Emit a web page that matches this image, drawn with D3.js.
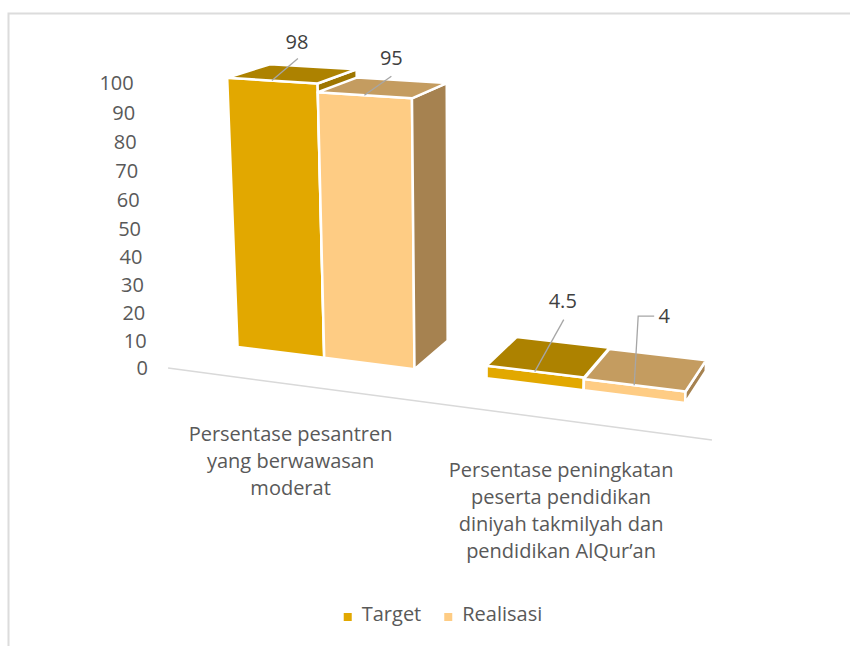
<!DOCTYPE html>
<html>
<head>
<meta charset="utf-8">
<script src="https://cdn.jsdelivr.net/npm/d3@7"></script>
<style>
  html, body { margin: 0; padding: 0; background: #fff; }
  svg { display: block; font-family: 'Open Sans', sans-serif; }
</style>
</head>
<body>
<svg id="chart"></svg>
<script>
// data
const categories = [
  'Persentase pesantren yang berwawasan moderat',
  'Persentase peningkatan peserta pendidikan diniyah takmilyah dan pendidikan AlQur’an'
];
const categoryLines = [
  ['Persentase pesantren', 'yang berwawasan', 'moderat'],
  ['Persentase peningkatan', 'peserta pendidikan', 'diniyah takmilyah dan', 'pendidikan AlQur’an']
];
const seriesNames = ['Target', 'Realisasi'];
const targetValues = [98, 4.5];
const realisasiValues = [95, 4];
const yTicks = [0, 10, 20, 30, 40, 50, 60, 70, 80, 90, 100];

const colors = {
  Target: { front: '#E2A800', top: '#AD8200', side: '#9E7600' },
  Realisasi: { front: '#FECC84', top: '#C49C60', side: '#A68250' }
};

// data label placement relative to the top front edge of each bar: [dx, dy, leader points]
const labelLayout = [
  [{ dx: 25, dy: -32, leader: [[0, 0], [26, -22]] }, { dx: 27, dy: -30, leader: [[0, 0], [27, -19]] }],
  [{ dx: 28, dy: -64, leader: [[0, 0], [29, -52]] }, { dx: 30, dy: -62, leader: [[0, 0], [4, -69], [20, -69]] }]
];

const width = 850;
const height = 646;

const svg = d3.select('#chart').attr('width', width).attr('height', height);

// frame
svg.append('rect')
  .attr('x', 8.5).attr('y', 13.5)
  .attr('width', 900).attr('height', 700)
  .attr('fill', '#fff')
  .attr('stroke', '#DCDCDC')
  .attr('stroke-width', 2);

// 3D world box (units ~ px)
const plotW = 553, plotH = 290, barDepth = 94, gapDepth = 82;
const plotD = barDepth + 2 * gapDepth;

const x = d3.scaleBand()
  .domain(categories)
  .range([0, plotW])
  .paddingInner(0.278)
  .paddingOuter(0.14)
  .align(0.45);

const xs = d3.scaleBand().domain(seriesNames).range([0, x.bandwidth()]);

const y = d3.scaleLinear().domain([0, 100]).range([0, plotH]);

// camera
const yaw = 20 * Math.PI / 180;
const pitch = 14.5 * Math.PI / 180;
const focal = 1590;
const cx = 470, cy = 222;
const pivot = [plotW / 2, plotH / 2, plotD / 2];
const cosT = Math.cos(yaw), sinT = Math.sin(yaw), cosP = Math.cos(pitch), sinP = Math.sin(pitch);
const camPos = [
  pivot[0] + focal * cosP * sinT,
  pivot[1] + focal * sinP,
  pivot[2] - focal * cosP * cosT
];

function project(p) {
  const dx = p[0] - pivot[0], dy = p[1] - pivot[1], dz = p[2] - pivot[2];
  const X = dx * cosT + dz * sinT;
  const Zc = dx * sinT - dz * cosT;
  const Y = dy * cosP - Zc * sinP;
  const Z = dy * sinP + Zc * cosP;
  const s = focal / (focal - Z);
  return [cx + X * s, cy - Y * s];
}

const poly = d3.line();

// floor front edge
const f0 = project([0, 0, 0]);
const f1 = project([plotW, 0, 0]);
svg.append('line')
  .attr('x1', f0[0]).attr('y1', f0[1])
  .attr('x2', f1[0]).attr('y2', f1[1])
  .attr('stroke', '#D9D9D9')
  .attr('stroke-width', 1.5);

// y tick labels
svg.append('g')
  .selectAll('text')
  .data(yTicks)
  .join('text')
  .attr('x', (d) => project([0, y(d), 0])[0] - 20)
  .attr('y', (d) => project([0, y(d), 0])[1])
  .attr('dy', '0.35em')
  .attr('text-anchor', 'end')
  .style('font-size', '20px')
  .style('fill', '#595959')
  .text((d) => d);

// bars
const valuesBySeries = { Target: targetValues, Realisasi: realisasiValues };
const bars = [];
categories.forEach((c, i) => {
  seriesNames.forEach((s, j) => {
    const x0 = x(c) + xs(s);
    const x1 = x0 + xs.bandwidth();
    const z0 = gapDepth, z1 = gapDepth + barDepth;
    const h = y(valuesBySeries[s][i]);
    bars.push({ ci: i, si: j, series: s, value: valuesBySeries[s][i], x0, x1, z0, z1, h });
  });
});

function faces(b) {
  const { x0, x1, z0, z1, h } = b;
  const all = [
    { n: [0, 0, -1], c: [(x0 + x1) / 2, h / 2, z0], kind: 'front', pts: [[x0, 0, z0], [x1, 0, z0], [x1, h, z0], [x0, h, z0]] },
    { n: [0, 0, 1], c: [(x0 + x1) / 2, h / 2, z1], kind: 'side', pts: [[x0, 0, z1], [x1, 0, z1], [x1, h, z1], [x0, h, z1]] },
    { n: [-1, 0, 0], c: [x0, h / 2, (z0 + z1) / 2], kind: 'side', pts: [[x0, 0, z0], [x0, 0, z1], [x0, h, z1], [x0, h, z0]] },
    { n: [1, 0, 0], c: [x1, h / 2, (z0 + z1) / 2], kind: 'side', pts: [[x1, 0, z0], [x1, 0, z1], [x1, h, z1], [x1, h, z0]] },
    { n: [0, 1, 0], c: [(x0 + x1) / 2, h, (z0 + z1) / 2], kind: 'top', pts: [[x0, h, z0], [x1, h, z0], [x1, h, z1], [x0, h, z1]] }
  ];
  return all.filter((f) => {
    const v = [camPos[0] - f.c[0], camPos[1] - f.c[1], camPos[2] - f.c[2]];
    return v[0] * f.n[0] + v[1] * f.n[1] + v[2] * f.n[2] > 0;
  });
}

// far bars first
const dist = (b) => Math.hypot(camPos[0] - (b.x0 + b.x1) / 2, camPos[2] - (b.z0 + b.z1) / 2);
const ordered = bars.slice().sort((a, b) => dist(b) - dist(a));

svg.append('g')
  .selectAll('g')
  .data(ordered)
  .join('g')
  .selectAll('path')
  .data((b) => faces(b).map((f) => ({ ...f, series: b.series })))
  .join('path')
  .attr('d', (f) => poly(f.pts.map(project)) + 'Z')
  .attr('fill', (f) => colors[f.series][f.kind])
  .attr('stroke', '#fff')
  .attr('stroke-width', 2.5)
  .attr('stroke-linejoin', 'round');

// data labels with leader lines
const labelG = svg.append('g');
bars.forEach((b) => {
  const a = project([(b.x0 + b.x1) / 2, b.h, b.z0]);
  const lay = labelLayout[b.ci][b.si];
  labelG.append('path')
    .attr('d', poly(lay.leader.map((p) => [a[0] + p[0], a[1] + p[1]])))
    .attr('fill', 'none')
    .attr('stroke', '#A6A6A6')
    .attr('stroke-width', 1.3);
  labelG.append('text')
    .attr('x', a[0] + lay.dx)
    .attr('y', a[1] + lay.dy)
    .attr('text-anchor', 'middle')
    .style('font-size', '20px')
    .style('fill', '#404040')
    .text(b.value);
});

// category labels
const catG = svg.append('g');
categories.forEach((c, i) => {
  const p = project([x(c) + x.bandwidth() / 2, 0, 0]);
  const t = catG.append('text')
    .attr('text-anchor', 'middle')
    .style('font-size', '20px')
    .style('fill', '#595959');
  categoryLines[i].forEach((line, k) => {
    t.append('tspan')
      .attr('x', p[0] + 2)
      .attr('y', p[1] + 57 + k * 27)
      .text(line);
  });
});

// legend
const legend = svg.append('g');
const items = legend.selectAll('g')
  .data(seriesNames)
  .join('g');
items.append('rect')
  .attr('width', 8).attr('height', 8)
  .attr('y', -8)
  .attr('fill', (d) => colors[d].front);
items.append('text')
  .attr('x', 18)
  .style('font-size', '20px')
  .style('fill', '#595959')
  .text((d) => d);
let off = 0;
items.each(function () {
  d3.select(this).attr('transform', `translate(${off},0)`);
  off += this.getBBox().width + 23;
});
const legendW = off - 23;
legend.attr('transform', `translate(${443 - legendW / 2},621)`);
</script>
</body>
</html>
